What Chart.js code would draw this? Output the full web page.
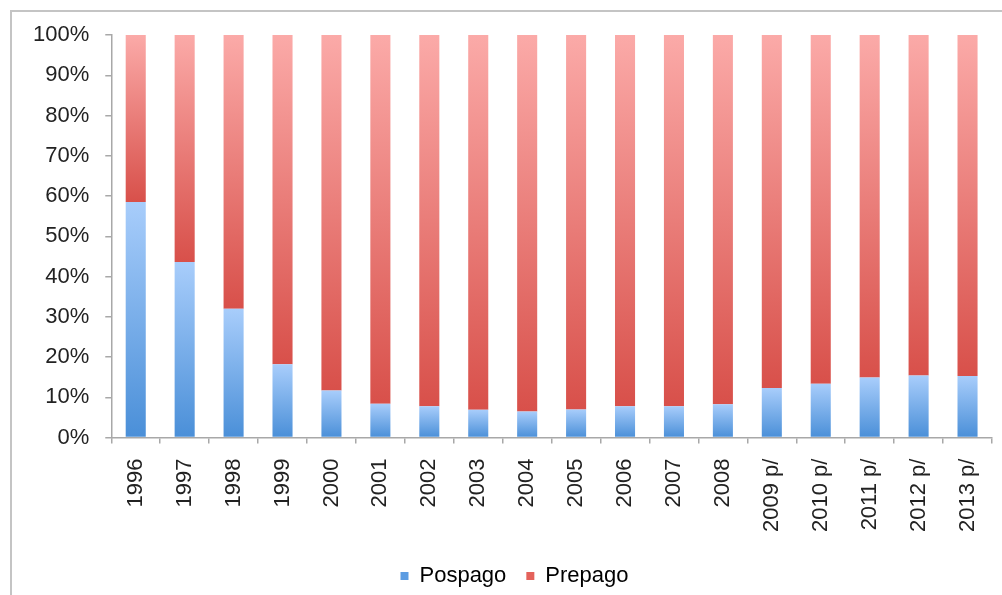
<!DOCTYPE html>
<html>
<head>
<meta charset="utf-8">
<script src="https://cdn.jsdelivr.net/npm/chart.js@4.4.1/dist/chart.umd.min.js"></script>
<style>
  html, body { margin: 0; padding: 0; background: #fff; overflow: hidden; }
  .frame { position: absolute; left: 10px; top: 10px; width: 1200px; height: 800px; border-top: 2px solid #c4c4c4; border-left: 2px solid #c4c4c4; }
  .wrap { position: absolute; left: 0; top: 0; width: 1002px; height: 595px; }
</style>
</head>
<body>
<div class="frame"></div>
<div class="wrap"><canvas id="chart"></canvas></div>
<script>
// share of lines by contract type, percent of total
const years = ["1996", "1997", "1998", "1999", "2000", "2001", "2002", "2003", "2004",
  "2005", "2006", "2007", "2008", "2009 p/", "2010 p/", "2011 p/", "2012 p/", "2013 p/"];
const pospago = [58.5, 43.6, 32.0, 18.2, 11.7, 8.4, 7.8, 6.9, 6.5,
  7.0, 7.8, 7.8, 8.3, 12.3, 13.4, 14.9, 15.4, 15.3];
const prepago = [41.5, 56.4, 68.0, 81.8, 88.3, 91.6, 92.2, 93.1, 93.5,
  93.0, 92.2, 92.2, 91.7, 87.7, 86.6, 85.1, 84.6, 84.7];
const yTicks = [0, 10, 20, 30, 40, 50, 60, 70, 80, 90, 100];

const FONT = "'Liberation Sans', Arial, Helvetica, sans-serif";
const BLUE = { top: "#a8cdfb", bottom: "#4a8fd8", solid: "#5c9ce2" };
const RED = { top: "#fbaaa8", bottom: "#d8504a", solid: "#e4625b" };

// each stacked segment gets its own vertical gradient, light at top, dark at bottom
function segmentFill(ctx) {
  const pal = ctx.datasetIndex === 0 ? BLUE : RED;
  const chart = ctx.chart;
  if (!chart.chartArea || ctx.dataIndex === undefined) return pal.solid;
  const i = ctx.dataIndex;
  const lo = ctx.datasetIndex === 0 ? 0 : pospago[i];
  const hi = ctx.datasetIndex === 0 ? pospago[i] : pospago[i] + prepago[i];
  const y = chart.scales.y;
  const g = chart.ctx.createLinearGradient(0, y.getPixelForValue(hi), 0, y.getPixelForValue(lo));
  g.addColorStop(0, pal.top);
  g.addColorStop(1, pal.bottom);
  return g;
}

// nudge the legend row a little to the right of the canvas centre
const legendShift = {
  id: "legendShift",
  afterLayout(chart) {
    if (chart.legend) { chart.legend.left += 10; chart.legend.right += 10; }
  }
};

new Chart(document.getElementById("chart"), {
  type: "bar",
  data: {
    labels: years,
    datasets: [
      { label: "Pospago", data: pospago, backgroundColor: segmentFill, borderWidth: 0 },
      { label: "Prepago", data: prepago, backgroundColor: segmentFill, borderWidth: 0 }
    ]
  },
  plugins: [legendShift],
  options: {
    responsive: true, maintainAspectRatio: false, animation: false,
    layout: { padding: { left: 17, right: 10, top: 35, bottom: -2 } },
    datasets: { bar: { categoryPercentage: 1, barPercentage: 0.41 } },
    plugins: {
      tooltip: { enabled: false },
      legend: {
        position: "bottom",
        labels: {
          font: { family: FONT, size: 22 }, color: "#222",
          boxWidth: 8, boxHeight: 8, padding: 20,
          generateLabels: chart => chart.data.datasets.map((ds, i) => ({
            text: ds.label, datasetIndex: i,
            fillStyle: i === 0 ? BLUE.solid : RED.solid, strokeStyle: "transparent", lineWidth: 0
          }))
        }
      }
    },
    scales: {
      x: {
        stacked: true,
        // rotated last label may overhang the right edge; don't reserve room for it
        afterFit: s => { s.height -= 2; s.paddingRight = 0; },
        grid: { drawOnChartArea: false, drawTicks: true, tickLength: 6, color: "#a8a8a8", lineWidth: 1.5 },
        border: { color: "#a8a8a8", width: 1.5 },
        ticks: { font: { family: FONT, size: 22 }, color: "#222", maxRotation: 90, minRotation: 90, padding: 15 }
      },
      y: {
        stacked: true, min: 0, max: 100,
        afterBuildTicks: axis => { axis.ticks = yTicks.map(v => ({ value: v })); },
        grid: { drawOnChartArea: false, drawTicks: true, tickLength: 6, color: "#a8a8a8", lineWidth: 1.5 },
        border: { color: "#a8a8a8", width: 1.5 },
        ticks: { font: { family: FONT, size: 22 }, color: "#222", padding: 16, callback: v => v + "%" }
      }
    }
  }
});
</script>
</body>
</html>
